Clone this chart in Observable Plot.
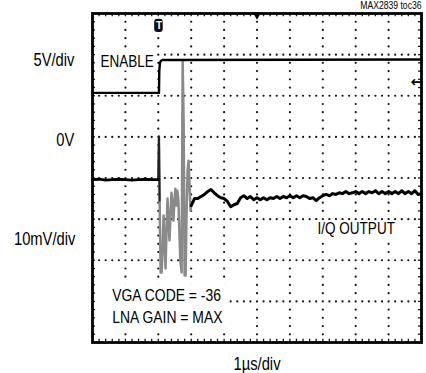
<!DOCTYPE html>
<html>
<head>
<meta charset="utf-8">
<script src="https://cdn.jsdelivr.net/npm/d3@7"></script>
<script src="https://cdn.jsdelivr.net/npm/@observablehq/plot@0.6"></script>
<style>
  html, body { margin: 0; padding: 0; background: #fff; overflow: hidden; }
  svg { display: block; }
</style>
</head>
<body>
<div id="chart"></div>
<script>
// ---- Data (time in µs = divisions, levels in screen divisions 0..8) ----
const enableTime  = [0, 2.02, 2.03, 2.05, 2.08, 2.13, 2.20, 10];
const enableLevel = [6.07, 6.07, 6.60, 6.80, 6.85, 6.87, 6.87, 6.88];

const iqBaseTime  = [0, 0.2, 0.4, 0.6, 0.8, 1.0, 1.2, 1.4, 1.6, 1.8, 2.0];
const iqBaseLevel = [3.96, 3.97, 3.95, 3.96, 3.97, 3.96, 3.95, 3.96, 3.97, 3.96, 3.96];

const iqRingTime  = [2.00, 2.02, 2.04, 2.07, 2.10, 2.13, 2.16, 2.19, 2.22, 2.25, 2.28, 2.31, 2.34, 2.37, 2.40, 2.43, 2.46, 2.49, 2.52, 2.55, 2.58, 2.61, 2.64, 2.67, 2.71, 2.74, 2.77, 2.80, 2.83, 2.86, 2.89, 2.92, 2.95, 2.98, 3.00];
const iqRingLevel = [3.96, 5.01, 3.45, 1.70, 1.70, 2.23, 3.09, 2.48, 1.80, 2.72, 3.50, 2.96, 2.48, 3.09, 3.64, 3.33, 2.96, 3.45, 3.74, 3.33, 3.69, 3.45, 2.72, 1.99, 1.70, 6.86, 5.40, 1.63, 1.63, 3.21, 4.18, 4.42, 3.82, 3.21, 3.33];

const iqSettleTime = [3.0, 3.1, 3.2, 3.3, 3.4, 3.5, 3.6, 3.7, 3.8, 3.9,
  4.0, 4.1, 4.2, 4.3, 4.4, 4.5, 4.6, 4.7, 4.8, 4.9,
  5.0, 5.1, 5.2, 5.3, 5.4, 5.5, 5.6, 5.7, 5.8, 5.9,
  6.0, 6.1, 6.2, 6.3, 6.4, 6.5, 6.6, 6.7, 6.8, 6.9,
  7.0, 7.1, 7.2, 7.3, 7.4, 7.5, 7.6, 7.7, 7.8, 7.9,
  8.0, 8.1, 8.2, 8.3, 8.4, 8.5, 8.6, 8.7, 8.8, 8.9,
  9.0, 9.1, 9.2, 9.3, 9.4, 9.5, 9.6, 9.7, 9.8, 9.9, 10.0];
const iqSettleLevel = [3.33, 3.50, 3.50, 3.55, 3.60, 3.67, 3.72, 3.64, 3.57, 3.52,
  3.50, 3.43, 3.30, 3.35, 3.38, 3.52, 3.57, 3.50, 3.55, 3.47,
  3.52, 3.47, 3.52, 3.47, 3.52, 3.50, 3.55, 3.50, 3.55, 3.52,
  3.57, 3.52, 3.57, 3.52, 3.57, 3.55, 3.50, 3.52, 3.45, 3.52,
  3.57, 3.60, 3.57, 3.62, 3.60, 3.64, 3.62, 3.67, 3.62, 3.64,
  3.67, 3.62, 3.67, 3.62, 3.67, 3.64, 3.69, 3.62, 3.67, 3.62,
  3.67, 3.62, 3.67, 3.62, 3.69, 3.62, 3.67, 3.62, 3.69, 3.60, 3.62];

// Texts
const yLabels = ["5V/div", "0V", "10mV/div"];
const xLabel = "1µs/div";
const traceLabels = ["ENABLE", "I/Q OUTPUT"];
const noteLines = ["VGA CODE = -36", "LNA GAIN = MAX"];
const chartId = "MAX2839 toc36";

// Graticule: 10 x 8 divisions, 5 subdivisions each
const xDivs = d3.range(0, 11);
const yDivs = d3.range(0, 9);

// ---- Build tables ----
const zip = (t, v) => t.map((x, i) => ({x, y: v[i]}));
const enable = zip(enableTime, enableLevel);
const iqBase = zip(iqBaseTime, iqBaseLevel);
const iqRing = zip(iqRingTime, iqRingLevel);
const iqSettle = zip(iqSettleTime, iqSettleLevel);

const sub = d3.range(0, 51).map(i => i / 5);   // x subdivisions
const subY = d3.range(0, 41).map(i => i / 5);  // y subdivisions
const hDots = [];
for (const y of yDivs.slice(1, -1)) for (const x of sub) if (x > 0 && x < 10) hDots.push({x, y});
const vDots = [];
for (const x of xDivs.slice(1, -1)) for (const y of subY) if (y > 0 && y < 8 && Math.abs(y - Math.round(y)) > 1e-6) vDots.push({x, y});

const FONT = "'Liberation Sans', Arial, sans-serif";
const lbl = {fill: "black", textAnchor: "start"};

const chart = Plot.plot({
  width: 426,
  height: 373,
  marginLeft: 92,
  marginRight: 5,
  marginTop: 13,
  marginBottom: 31,
  x: {domain: [0, 10], axis: null},
  y: {domain: [0, 8], axis: null},
  style: {fontFamily: FONT, background: "white", color: "black"},
  marks: [
    // graticule dots
    Plot.dot(hDots, {x: "x", y: "y", r: 1.1, fill: "#111", stroke: null}),
    Plot.dot(vDots, {x: "x", y: "y", r: 1.1, fill: "#111", stroke: null}),
    // border ticks
    Plot.ruleX(sub.filter(x => x > 0 && x < 10), {y1: 8, y2: 7.92, stroke: "#111", strokeWidth: 1.3}),
    Plot.ruleX(sub.filter(x => x > 0 && x < 10), {y1: 0, y2: 0.08, stroke: "#111", strokeWidth: 1.3}),
    Plot.ruleY(subY.filter(y => y > 0 && y < 8), {x1: 0, x2: 0.09, stroke: "#111", strokeWidth: 1.3}),
    Plot.ruleY(subY.filter(y => y > 0 && y < 8), {x1: 9.91, x2: 10, stroke: "#111", strokeWidth: 1.3}),

    // white boxes behind the in-graticule labels
    Plot.rect([0], {x1: 0.13, x2: 1.95, y1: 6.60, y2: 7.12, fill: "white"}),
    Plot.rect([0], {x1: 6.75, x2: 9.25, y1: 2.55, y2: 2.96, fill: "white"}),
    Plot.rect([0], {x1: 0.15, x2: 4.13, y1: 0.36, y2: 1.42, fill: "white"}),

    // labels inside the graticule
    Plot.text([traceLabels[0]], {x: 0.24, y: 6.83, text: d => d, fontSize: 16.5, ...lbl}),
    Plot.text([traceLabels[1]], {x: 6.84, y: 2.77, text: d => d, fontSize: 16.5, ...lbl}),
    Plot.text([noteLines[0]], {x: 0.60, y: 1.14, text: d => d, fontSize: 17, ...lbl}),
    Plot.text([noteLines[1]], {x: 0.60, y: 0.60, text: d => d, fontSize: 17, ...lbl}),

    // traces
    Plot.line(iqRing, {x: "x", y: "y", stroke: "#8a8a8a", strokeWidth: 2.5, curve: "linear"}),
    Plot.line(iqRing.slice(0, 3), {x: "x", y: "y", stroke: "#222", strokeWidth: 2}),
    Plot.line(iqBase, {x: "x", y: "y", stroke: "black", strokeWidth: 2.8}),
    Plot.line(iqSettle, {x: "x", y: "y", stroke: "black", strokeWidth: 3}),
    Plot.line(enable, {x: "x", y: "y", stroke: "black", strokeWidth: 2.4}),

    // frame
    Plot.frame({stroke: "black", strokeWidth: 2.8}),

    // scope markers
    Plot.dot([5], {x: d => d, y: 7.97, symbol: "triangle", rotate: 180, r: 3.2, fill: "black", stroke: null}),
    Plot.rect([2.02], {x1: d => d - 0.13, x2: d => d + 0.13, y1: 7.54, y2: 7.86, fill: "#111", rx: 3}),
    Plot.text(["T"], {x: 2.02, y: 7.71, text: d => d, fill: "white", fontSize: 10, fontWeight: "bold"}),
    Plot.text(["←"], {x: 9.86, y: 6.33, text: d => d, fill: "black", fontSize: 15, fontWeight: "bold", fontFamily: "'DejaVu Sans', sans-serif"}),

    // outside labels
    Plot.text([yLabels[0]], {x: -0.55, y: 6.86, text: d => d, textAnchor: "end", fontSize: 18}),
    Plot.text([yLabels[1]], {x: -0.55, y: 4.91, text: d => d, textAnchor: "end", fontSize: 18}),
    Plot.text([yLabels[2]], {x: -0.52, y: 2.50, text: d => d, textAnchor: "end", fontSize: 18}),
    Plot.text([xLabel], {x: 5.0, y: -0.52, text: d => d, textAnchor: "middle", fontSize: 18}),
    Plot.text([chartId], {x: 10.0, y: 8.18, text: d => d, textAnchor: "end", fontSize: 10.5})
  ]
});
document.getElementById("chart").appendChild(chart);

// Condense glyphs horizontally (scope-style narrow sans), keeping each text's anchor fixed
const NS = "http://www.w3.org/2000/svg";
chart.querySelectorAll("text").forEach(t => {
  if (t.textContent === "T" || t.textContent === "←") return;
  const r = t.getBoundingClientRect();
  const anchor = getComputedStyle(t).textAnchor || t.getAttribute("text-anchor") || t.parentNode.getAttribute("text-anchor") || "start";
  const sx = anchor === "end" ? r.right : anchor === "middle" ? (r.left + r.right) / 2 : r.left;
  const parent = t.parentNode;
  const m = parent.getScreenCTM();
  const ax = (sx - m.e) / m.a;
  const g = document.createElementNS(NS, "g");
  g.setAttribute("transform", `translate(${ax},0) scale(0.82,1) translate(${-ax},0)`);
  parent.insertBefore(g, t);
  g.appendChild(t);
});
</script>
</body>
</html>
